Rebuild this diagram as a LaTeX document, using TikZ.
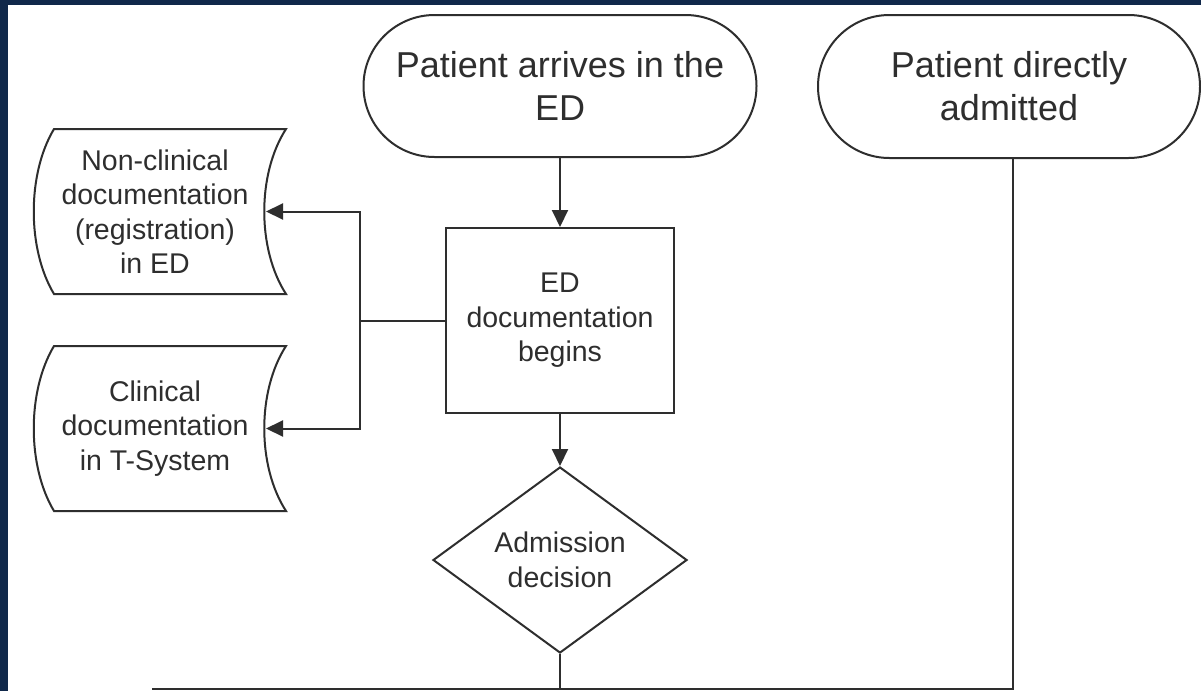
\documentclass[tikz,border=0pt]{standalone}
\usepackage{fontspec}
\setmainfont{Liberation Sans}
\usetikzlibrary{arrows.meta,shapes.misc,shapes.geometric,calc}
\definecolor{navy}{HTML}{10284A}
\definecolor{ink}{HTML}{2E2E2E}
% outline of a "stored data" symbol around a plain rectangle node
\newcommand\storedoutline[1]{%
  \draw ($(#1.north west)+(10,0)$) -- ($(#1.north east)+(20,0)$)
    .. controls ($(#1.north east)+(-9,45)$) and ($(#1.south east)+(-9,-45)$) .. ($(#1.south east)+(20,0)$)
    -- ($(#1.south west)+(10,0)$)
    .. controls ($(#1.south west)+(-17,-45)$) and ($(#1.north west)+(-17,45)$) .. cycle;}
\begin{document}
\begin{tikzpicture}[x=1pt,y=-1pt,line width=2pt,color=ink,
  bigtxt/.style={font=\fontsize{36}{43}\selectfont,align=center,text=ink},
  smalltxt/.style={font=\fontsize{28.5}{34.5}\selectfont,align=center,text=ink},
  terminal/.style={rounded rectangle,draw,bigtxt,inner sep=0pt},
  process/.style={rectangle,draw,smalltxt,inner sep=0pt},
  decision/.style={diamond,draw,smalltxt,aspect=1.37,inner sep=0pt},
  storeddata/.style={rectangle,smalltxt,inner sep=0pt,minimum width=220pt,minimum height=163pt},
  flow/.style={-{Triangle[length=17pt,width=16pt]}}]
\useasboundingbox (0,0) rectangle (1201,691);
\fill[navy] (0,0) rectangle (1201,691);
\fill[white] (8,5) rectangle (1201,691);

% start points
\node[terminal,minimum width=393pt,minimum height=142pt] (arr) at (560,86) {Patient arrives in the\\ED};
\node[terminal,minimum width=382pt,minimum height=143pt] (dir) at (1009,86.5) {Patient directly\\admitted};

% main steps
\node[process,minimum width=228pt,minimum height=185pt] (doc) at (560,320.5) {ED\\documentation\\begins};
\node[decision,minimum width=254pt,minimum height=186pt] (adm) at (560,560) {Admission\\decision};

% documentation records
\node[storeddata] (reg) at (155,211.5) {Non-clinical\\documentation\\(registration)\\in ED};
\node[storeddata] (tsys) at (155,428.5) {Clinical\\documentation\\in T-System};
\storedoutline{reg}
\storedoutline{tsys}

% connectors
\coordinate (j) at (360,320.5);
\coordinate (bl) at (152,689);
\coordinate (dirout) at ($(dir.south)+(4,0)$);
\draw[flow] (arr.south) -- (doc.north);
\draw[flow] (doc.south) -- (adm.north);
\draw (doc.west) -- (j);
\draw[flow] (j) |- (reg.east);
\draw[flow] (j) |- (tsys.east);
\draw (adm.south) -- (adm.south |- bl);
\draw (dirout) |- (bl);
\end{tikzpicture}
\end{document}
